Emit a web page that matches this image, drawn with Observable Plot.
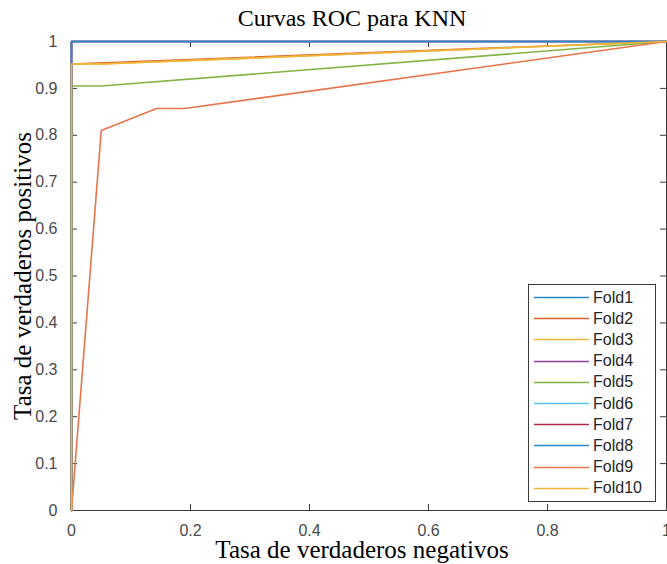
<!DOCTYPE html>
<html>
<head>
<meta charset="utf-8">
<script src="https://cdn.jsdelivr.net/npm/d3@7"></script>
<script src="https://cdn.jsdelivr.net/npm/@observablehq/plot@0.6"></script>
<style>
  html, body { margin: 0; padding: 0; background: #fff; }
  #wrap { position: relative; width: 667px; height: 564px; }
  #legend { position: absolute; left: 528px; top: 284px; width: 128px; height: 218px;
    box-sizing: border-box; border: 1px solid #3a3a3a; background: #fff; padding-top: 2px;
    font-family: "Liberation Sans", Arial, sans-serif; font-size: 16px; color: #262626; }
  .row { display: flex; align-items: center; height: 21.2px; }
  .row svg { width: 64px; height: 21px; flex: none; }
</style>
</head>
<body>
<div id="wrap"></div>
<script>
const title = "Curvas ROC para KNN";
const xLabel = "Tasa de verdaderos negativos";
const yLabel = "Tasa de verdaderos positivos";
const folds = ["Fold1","Fold2","Fold3","Fold4","Fold5","Fold6","Fold7","Fold8","Fold9","Fold10"];
const colors = ["#2a87cc","#e0622c","#efb73a","#8a419a","#82b444","#5cc3ee","#ab2b44","#2a87cc","#e8744c","#efb73a"];
const xTicks = [0, 0.2, 0.4, 0.6, 0.8, 1];
const yTicks = [0, 0.1, 0.2, 0.3, 0.4, 0.5, 0.6, 0.7, 0.8, 0.9, 1];

const fpr1 = [0, 0, 1],              tpr1 = [0, 1, 1];
const fpr2 = [0, 0, 1],              tpr2 = [0, 0.952, 1];
const fpr3 = [0, 0, 0.05, 1],        tpr3 = [0, 0.952, 0.952, 1];
const fpr4 = [0, 0, 1],              tpr4 = [0, 1, 1];
const fpr5 = [0, 0, 0.05, 1],        tpr5 = [0, 0.905, 0.905, 1];
const fpr6 = [0, 0, 1],              tpr6 = [0, 1, 1];
const fpr7 = [0, 0, 1],              tpr7 = [0, 1, 1];
const fpr8 = [0, 0, 1],              tpr8 = [0, 1, 1];
const fpr9 = [0, 0.05, 0.143, 0.19, 1], tpr9 = [0, 0.81, 0.857, 0.857, 1];
const fpr10 = [0, 0, 0.05, 1],       tpr10 = [0, 0.952, 0.952, 1];

const fprs = [fpr1,fpr2,fpr3,fpr4,fpr5,fpr6,fpr7,fpr8,fpr9,fpr10];
const tprs = [tpr1,tpr2,tpr3,tpr4,tpr5,tpr6,tpr7,tpr8,tpr9,tpr10];

const rows = [];
folds.forEach((f, i) => fprs[i].forEach((x, j) => rows.push({fold: f, idx: i, x, y: tprs[i][j]})));

const axisColor = "#3a3a3a";
const tickText = "#4a4a4a";
const fmt = d => String(d);
const W = 667, H = 564, mL = 71, mR = 1, mT = 41, mB = 54;
const frameW = W - mL - mR, frameH = H - mT - mB, tick = 6;

const marks = [
  Plot.frame({stroke: axisColor, strokeWidth: 1}),
  Plot.axisX({ticks: xTicks, anchor: "bottom", tickSize: 0, tickPadding: 14, tickFormat: fmt, label: null, fill: tickText}),
  Plot.axisY({ticks: yTicks, anchor: "left", tickSize: 0, tickPadding: 14, tickFormat: fmt, label: null, fill: tickText}),
  Plot.tickX(xTicks, {x: d => d, stroke: axisColor, insetTop: frameH - tick}),
  Plot.tickX(xTicks, {x: d => d, stroke: axisColor, insetBottom: frameH - tick}),
  Plot.tickY(yTicks, {y: d => d, stroke: axisColor, insetRight: frameW - tick}),
  Plot.tickY(yTicks, {y: d => d, stroke: axisColor, insetLeft: frameW - tick}),
];
folds.forEach((f, i) => {
  marks.push(Plot.line(rows.filter(r => r.idx === i), {x: "x", y: "y", stroke: colors[i], strokeWidth: 1.6}));
});
marks.push(
  Plot.text([title], {frameAnchor: "top", dy: -23, dx: -17, fontSize: 24, fontFamily: "Liberation Serif", fill: "#000", lineAnchor: "middle"}),
  Plot.text([xLabel], {frameAnchor: "bottom", dy: 39, dx: -7, fontSize: 25, fontFamily: "Liberation Serif", fill: "#000", lineAnchor: "middle"}),
  Plot.text([yLabel], {frameAnchor: "left", dx: -49, rotate: -90, textAnchor: "middle", fontSize: 25, fontFamily: "Liberation Serif", fill: "#000", lineAnchor: "middle"})
);

const chart = Plot.plot({
  width: W,
  height: H,
  marginLeft: mL,
  marginRight: mR,
  marginTop: mT,
  marginBottom: mB,
  x: {domain: [0, 1], axis: null},
  y: {domain: [0, 1], axis: null},
  style: {fontFamily: "Liberation Sans, Arial, sans-serif", fontSize: "16px", background: "#fff", overflow: "visible"},
  marks
});
const wrap = document.getElementById("wrap");
wrap.appendChild(chart);

const legend = document.createElement("div");
legend.id = "legend";
folds.forEach((f, i) => {
  const row = document.createElement("div");
  row.className = "row";
  row.innerHTML = `<svg><line x1="5" x2="60" y1="10.5" y2="10.5" stroke="${colors[i]}" stroke-width="1.6"/></svg><span>${f}</span>`;
  legend.appendChild(row);
});
wrap.appendChild(legend);
</script>
</body>
</html>
